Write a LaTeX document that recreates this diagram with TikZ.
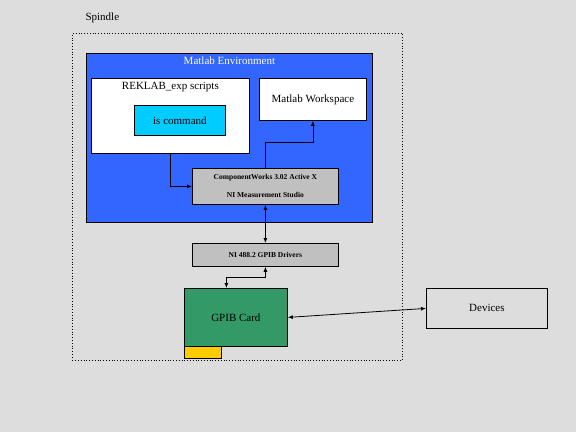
\documentclass[tikz,border=0pt]{standalone}
\usepackage{fontspec}
\setmainfont{Liberation Serif}
\usepackage{xcolor}
\usetikzlibrary{arrows.meta, positioning}

\definecolor{bgrey}{RGB}{221,221,221}
\definecolor{envblue}{RGB}{51,102,255}
\definecolor{cmdcyan}{RGB}{0,204,255}
\definecolor{cardgreen}{RGB}{51,153,102}
\definecolor{tabyellow}{RGB}{255,204,0}
\definecolor{boxgrey}{RGB}{192,192,192}

\begin{document}
\begin{tikzpicture}[
  x=1pt, y=-1pt,
  box/.style={draw, line width=0.8pt, anchor=north west, inner sep=0pt,
              font=\fontsize{11}{13}\selectfont, align=center},
  wbox/.style={box, fill=white},
  gbox/.style={box, fill=boxgrey, font=\fontsize{7.5}{9}\selectfont\bfseries},
  arr/.style={-{Latex[length=5pt,width=4pt]}, line width=0.8pt},
  dbl/.style={{Latex[length=5pt,width=4pt]}-{Latex[length=5pt,width=4pt]}, line width=0.8pt},
]
\fill[bgrey] (0,0) rectangle (576,432);
\useasboundingbox (0,0) rectangle (576,432);

% outer machine
\node[box, draw, dotted, minimum width=330pt, minimum height=327pt] (spindle) at (72,33) {};
\node[anchor=west, font=\fontsize{11}{13}\selectfont] (spindlelbl) at (82,18) {Spindle};

% matlab side
\node[box, fill=envblue, minimum width=286pt, minimum height=169pt] (env) at (86,53) {};
\node[below=4pt of env.north, text=white, font=\fontsize{11}{13}\selectfont, inner sep=0pt] (envlbl) {Matlab Environment};
\node[wbox, minimum width=158pt, minimum height=75pt] (scripts) at (91,78) {};
\node[below=4pt of scripts.north, font=\fontsize{11}{13}\selectfont, inner sep=0pt] (scriptslbl) {REKLAB\_exp scripts};
\node[box, fill=cmdcyan, minimum width=91pt, minimum height=30pt] (cmd) at (134,105) {is command};
\node[wbox, minimum width=107pt, minimum height=42pt] (ws) at (259,78) {Matlab Workspace};
\node[gbox, minimum width=146pt, minimum height=36pt] (cw) at (192,168)
  {ComponentWorks 3.02 Active X\\[9pt]NI Measurement Studio};

% hardware side
\node[gbox, minimum width=146pt, minimum height=23pt] (drv) at (192,243) {NI 488.2 GPIB Drivers};
\node[box, fill=cardgreen, minimum width=103pt, minimum height=58pt] (card) at (184,288) {GPIB Card};
\node[box, fill=tabyellow, minimum width=37pt, minimum height=12pt] (tab) at (184,346) {};
\node[box, minimum width=121pt, minimum height=40pt] (dev) at (426,288) {Devices};

\draw[arr] (scripts.south) |- (cw.west);
\draw[arr] (cw.north) -- ++(0,-26) -| (ws.south);
\draw[dbl] (cw.south) -- (drv.north);
\draw[dbl] (drv.south) -- ++(0,11) -| ([xshift=-9.5pt]card.north);
\draw[dbl] (card.east) -- (dev.west);
\end{tikzpicture}
\end{document}
